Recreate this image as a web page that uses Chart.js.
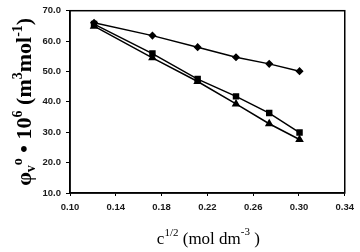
<!DOCTYPE html>
<html>
<head>
<meta charset="utf-8">
<script src="https://cdn.jsdelivr.net/npm/chart.js@4"></script>
<style>
  html, body { margin: 0; padding: 0; background: #fff; }
  #wrap { width: 360px; height: 252px; }
</style>
</head>
<body>
<div id="wrap"><canvas id="PhiChart" width="360" height="252"></canvas></div>
<script>
//
// Data
var conc_sqrt = [0.121, 0.172, 0.2115, 0.245, 0.274, 0.3005];
var phi_diamond = [66.0, 61.8, 58.0, 54.7, 52.5, 50.1];
var phi_square = [65.6, 55.9, 47.5, 41.8, 36.3, 29.9];
var phi_triangle = [64.9, 54.5, 46.7, 39.3, 32.8, 27.6];
var y_ticks = [10, 20, 30, 40, 50, 60, 70];
var x_ticks = [0.10, 0.14, 0.18, 0.22, 0.26, 0.30, 0.34];

function pairs(xs, ys) {
    return xs.map(function(x, i) { return {x: x, y: ys[i]}; });
}

//
// draw a run of text pieces, some raised or lowered
function drawRich(ctx, pieces, cx, cy) {
    var total = 0;
    pieces.forEach(function(p) {
        ctx.font = p.font;
        p.w = ctx.measureText(p.t).width;
        total += p.w;
    });
    var x = cx - total / 2;
    pieces.forEach(function(p) {
        ctx.font = p.font;
        ctx.fillText(p.t, x, cy + (p.dy || 0));
        x += p.w;
    });
}

var titles = {
    id: 'titles',
    afterDraw: function(chart) {
        var ctx = chart.ctx;
        var area = chart.chartArea;
        ctx.save();
        ctx.fillStyle = '#000';
        ctx.textBaseline = 'alphabetic';

        // plot frame
        ctx.strokeStyle = '#000';
        ctx.lineWidth = 1.5;
        ctx.strokeRect(area.left, area.top, area.right - area.left, area.bottom - area.top);

        // x title
        var big = '17px "Liberation Serif", "Times New Roman", serif';
        var sup = '11px "Liberation Serif", "Times New Roman", serif';
        drawRich(ctx, [
            {t: 'c', font: big},
            {t: '1/2', font: sup, dy: -8},
            {t: ' (mol dm', font: big},
            {t: '-3', font: sup, dy: -9},
            {t: ' )', font: big}
        ], (area.left + area.right) / 2 + 1, 244);

        // y title, rotated
        var yb = 'bold 22px "Liberation Serif", "Times New Roman", serif';
        var ys = 'bold 14px "Liberation Serif", "Times New Roman", serif';
        ctx.translate(31, (area.top + area.bottom) / 2);
        ctx.rotate(-Math.PI / 2);
        drawRich(ctx, [
            {t: '\u03C6', font: yb},
            {t: 'v', font: ys, dy: 4},
            {t: 'o', font: ys, dy: -9},
            {t: ' \u2022 10', font: yb},
            {t: '6', font: ys, dy: -9},
            {t: ' (m', font: yb},
            {t: '3', font: ys, dy: -9},
            {t: 'mol', font: yb},
            {t: '-1', font: ys, dy: -9},
            {t: ')', font: yb}
        ], 0, 0);
        ctx.restore();
    }
};

var common = {
    borderColor: '#000',
    backgroundColor: '#000',
    pointBorderColor: '#000',
    pointBackgroundColor: '#000',
    borderWidth: 1.5,
    showLine: true,
    fill: false,
    tension: 0
};

var tickFont = { family: '"Liberation Sans", Arial, sans-serif', size: 9.5, weight: 'bold' };

new Chart(document.getElementById('PhiChart').getContext('2d'), {
    type: 'scatter',
    data: {
        datasets: [
            Object.assign({ data: pairs(conc_sqrt, phi_diamond), pointStyle: 'rectRot', pointRadius: 3 }, common),
            Object.assign({ data: pairs(conc_sqrt, phi_square), pointStyle: 'rect', pointRadius: 3.5 }, common),
            Object.assign({ data: pairs(conc_sqrt, phi_triangle), pointStyle: 'triangle', pointRadius: 3.5 }, common)
        ]
    },
    options: {
        responsive: false,
        animation: false,
        layout: { padding: { top: 9, right: 13, left: 0, bottom: 0 } },
        plugins: { legend: { display: false }, tooltip: { enabled: false } },
        scales: {
            x: {
                type: 'linear',
                min: x_ticks[0],
                max: x_ticks[x_ticks.length - 1],
                afterBuildTicks: function(s) { s.ticks = x_ticks.map(function(v) { return {value: v}; }); },
                afterFit: function(s) { s.height = 59; },
                grid: { drawOnChartArea: false, drawTicks: true, tickLength: 3, color: '#000' },
                border: { color: '#000', width: 1.5 },
                ticks: {
                    color: '#1a1a1a', font: tickFont, padding: 6, maxRotation: 0,
                    callback: function(v) { return Number(v).toFixed(2); }
                }
            },
            y: {
                min: y_ticks[0],
                max: y_ticks[y_ticks.length - 1],
                afterBuildTicks: function(s) { s.ticks = y_ticks.map(function(v) { return {value: v}; }); },
                afterFit: function(s) { s.width = 70; },
                grid: { drawOnChartArea: false, drawTicks: true, tickLength: 4, color: '#000' },
                border: { color: '#000', width: 1.5 },
                ticks: {
                    color: '#1a1a1a', font: tickFont, padding: 5,
                    callback: function(v) { return Number(v).toFixed(1); }
                }
            }
        }
    },
    plugins: [titles]
});
</script>
</body>
</html>
